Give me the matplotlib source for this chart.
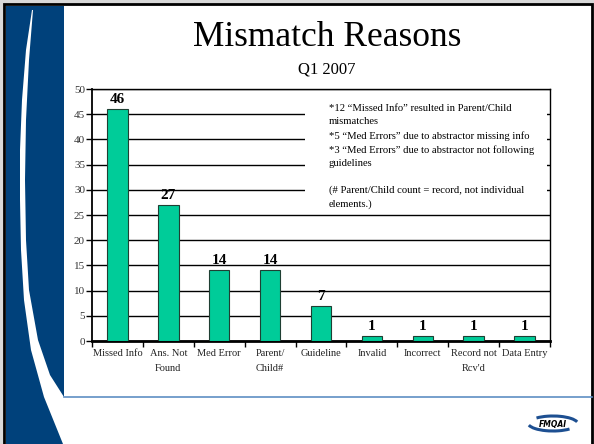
import numpy as np
import matplotlib.pyplot as plt
from matplotlib.patches import Rectangle, Polygon, Arc

plt.rcParams['font.family'] = ['Liberation Serif', 'DejaVu Serif']

# data
categories = ['Missed Info', 'Ans. Not\nFound', 'Med Error', 'Parent/\nChild#',
              'Guideline', 'Invalid', 'Incorrect', 'Record not\nRcv\'d',
              'Data Entry']
counts = [46, 27, 14, 14, 7, 1, 1, 1, 1]
note_lines = [
    '*12 \u201cMissed Info\u201d resulted in Parent/Child',
    'mismatches',
    '*5 \u201cMed Errors\u201d due to abstractor missing info',
    '*3 \u201cMed Errors\u201d due to abstractor not following',
    'guidelines',
    '',
    '(# Parent/Child count = record, not individual',
    'elements.)',
]

W, H = 594, 444
fig = plt.figure(figsize=(W / 100, H / 100), dpi=100, facecolor='#d8d8d8')

# slide background, drawn in pixel coords
bg = fig.add_axes([0, 0, 1, 1])
bg.set_xlim(0, W)
bg.set_ylim(H, 0)
bg.axis('off')
bg.add_patch(Rectangle((4, 4), 588, 450, facecolor='white',
                       edgecolor='black', linewidth=2))
bg.add_patch(Rectangle((6, 6), 58, 450, facecolor='#00417b', edgecolor='none'))
left_edge = [(32, 10), (26, 50), (22, 100), (20, 150), (20, 200), (21, 250),
             (24, 300), (31, 350), (44, 397), (63, 444)]
right_edge = [(33, 10), (29, 60), (26, 120), (25, 180), (26, 240), (29, 290),
              (38, 340), (50, 375), (64, 397)]
bg.add_patch(Polygon(left_edge + [(66, 444), (66, 397)] + right_edge[::-1],
                     closed=True, facecolor='white', edgecolor='none'))
bg.plot([64, 592], [397, 397], color='#5f8fc4', linewidth=1.2)

# logo
bg.add_patch(Arc((553, 423), 50, 16, theta1=20, theta2=175,
                 color='#1d4f91', linewidth=2.2))
bg.add_patch(Arc((553, 424), 50, 16, theta1=200, theta2=355,
                 color='#1d4f91', linewidth=2.2))
bg.text(553, 424, 'FMQAI', fontsize=5.5, fontweight='bold', style='italic',
        family='DejaVu Sans', ha='center', va='center', color='black')

# titles
bg.text(327, 38, 'Mismatch Reasons', fontsize=25.5, ha='center', va='center')
bg.text(327, 70, 'Q1 2007', fontsize=12, ha='center', va='center')

# chart
ax = fig.add_axes([92 / W, 1 - 341 / H, 458 / W, 252 / H])
x = np.arange(len(categories))
ax.bar(x, counts, width=0.4, color='#00cc99', edgecolor='#1f3f33',
       linewidth=0.8, zorder=3)
for xi, c in zip(x, counts):
    ax.text(xi, c + 0.6, str(c), ha='center', va='bottom', fontsize=11,
            fontweight='bold', zorder=4)

ax.set_xlim(-0.5, len(categories) - 0.5)
ax.set_ylim(0, 50)
ax.set_yticks(np.arange(0, 51, 5))
ax.yaxis.grid(True, color='black', linewidth=1)
ax.set_axisbelow(True)
ax.set_xticks(x)
ax.set_xticklabels(categories, fontsize=7.5, linespacing=1.75, color='#222222')
ax.set_xticks(np.arange(-0.5, len(categories)), minor=True)
ax.tick_params(axis='x', which='major', length=0, pad=6)
ax.tick_params(axis='x', which='minor', length=4, width=1, direction='out')
ax.tick_params(axis='y', length=4, width=1, labelsize=8, pad=1,
               labelcolor='#333333')
for s in ['top', 'right']:
    ax.spines[s].set_linewidth(1)
ax.spines['left'].set_linewidth(1.3)
ax.spines['bottom'].set_linewidth(2)

# white note box over the gridlines
ax.add_patch(Rectangle((0.465, 0.512), 0.528, 0.445, transform=ax.transAxes,
                       facecolor='white', edgecolor='none', zorder=2))
ax.text(0.517, 0.94, '\n'.join(note_lines), transform=ax.transAxes,
        fontsize=7.7, va='top', ha='left', linespacing=1.6, zorder=4)

fig.savefig('out.png', dpi=100, facecolor=fig.get_facecolor())
